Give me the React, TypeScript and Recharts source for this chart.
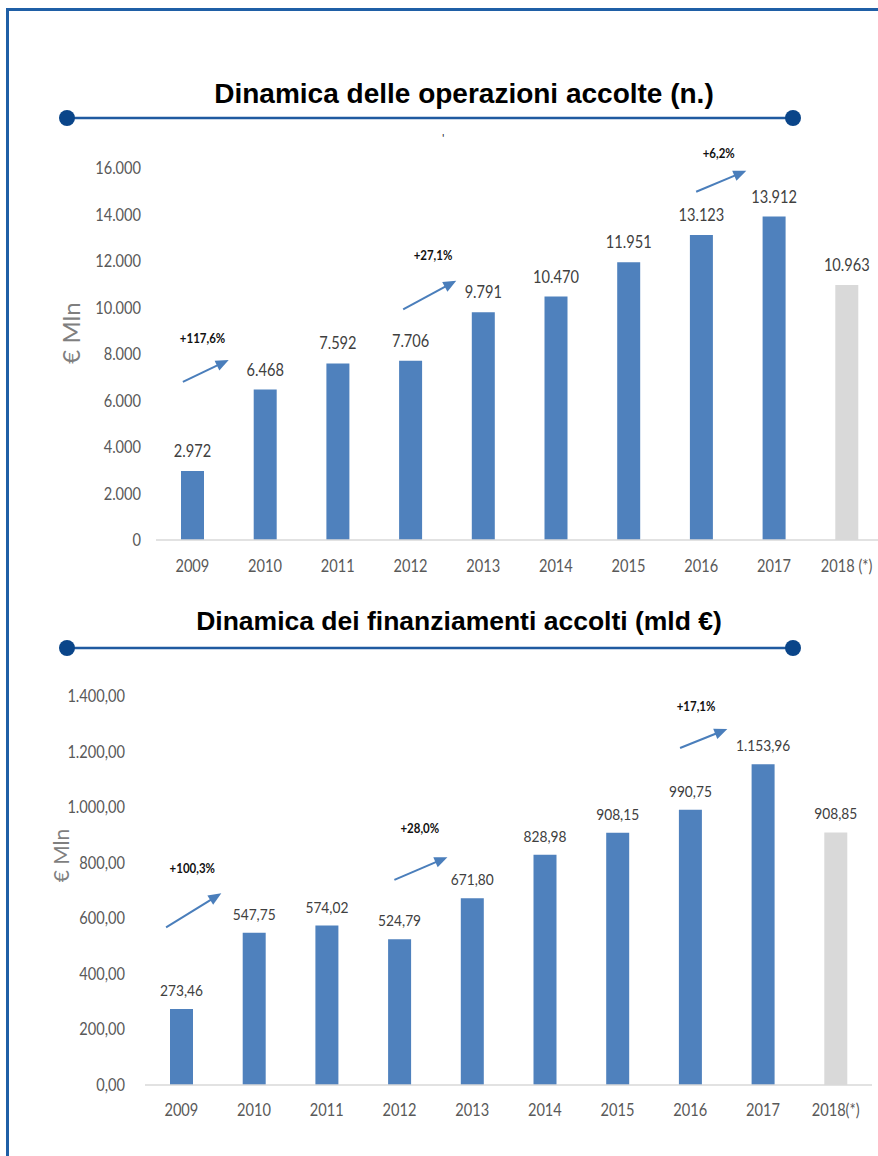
import React from "react";
import {
  BarChart,
  Bar,
  XAxis,
  YAxis,
  Cell,
  LabelList,
  ReferenceLine,
  ReferenceDot,
} from "recharts";

// dati
const anniOperazioni = ["2009", "2010", "2011", "2012", "2013", "2014", "2015", "2016", "2017", "2018 (*)"];
const anniFinanziamenti = ["2009", "2010", "2011", "2012", "2013", "2014", "2015", "2016", "2017", "2018(*)"];
const operazioni = [2972, 6468, 7592, 7706, 9791, 10470, 11951, 13123, 13912, 10963];
const finanziamenti = [273.46, 547.75, 574.02, 524.79, 671.8, 828.98, 908.15, 990.75, 1153.96, 908.85];
const stimato = [false, false, false, false, false, false, false, false, false, true];
const indici = [0, 1, 2, 3, 4, 5, 6, 7, 8, 9];
const tickOperazioni = [0, 2000, 4000, 6000, 8000, 10000, 12000, 14000, 16000];
const tickFinanziamenti = [0, 200, 400, 600, 800, 1000, 1200, 1400];

// frecce di crescita: x in indice di categoria, y in valore
const cresciteOperazioni = [
  { testo: "+117,6%", tx: 0.14, ty: 8670, x1: -0.13, y1: 6800, x2: 0.5, y2: 7740 },
  { testo: "+27,1%", tx: 3.31, ty: 12260, x1: 2.9, y1: 9920, x2: 3.63, y2: 11150 },
  { testo: "+6,2%", tx: 7.24, ty: 16660, x1: 6.93, y1: 14980, x2: 7.62, y2: 15880 },
];
const cresciteFinanziamenti = [
  { testo: "+100,3%", tx: 0.15, ty: 782, x1: -0.21, y1: 567, x2: 0.55, y2: 690 },
  { testo: "+28,0%", tx: 3.28, ty: 925, x1: 2.93, y1: 738, x2: 3.66, y2: 820 },
  { testo: "+17,1%", tx: 7.08, ty: 1364, x1: 6.86, y1: 1213, x2: 7.51, y2: 1281 },
];

const BLU = "#4f81bd";
const GRIGIO = "#d9d9d9";
const FRECCIA = "#4a7ebb";
const FONT = "Lato, sans-serif";
const TITOLO_FONT = '"Liberation Sans", Arial, sans-serif';
const STRETTO = 0.86; // i testi originali sono in un font stretto

const migliaia = (s: string) => s.replace(/\B(?=(\d{3})+(?!\d))/g, ".");
const fmtIntero = (v: number) => migliaia(String(Math.round(v)));
const fmtDecimale = (v: number) => {
  const [i, d] = v.toFixed(2).split(".");
  return migliaia(i) + "," + d;
};

type Crescita = { testo: string; tx: number; ty: number; x1: number; y1: number; x2: number; y2: number };

// testo compresso in orizzontale
function Testo({
  x,
  y,
  value,
  size,
  fill,
  anchor = "middle",
  weight = "normal",
  sx = STRETTO,
}: {
  x: number;
  y: number;
  value: string;
  size: number;
  fill: string;
  anchor?: "start" | "middle" | "end";
  weight?: string;
  sx?: number;
}) {
  if (typeof x !== "number" || typeof y !== "number" || isNaN(x) || isNaN(y)) return <g />;
  return (
    <text
      transform={`translate(${x},${y}) scale(${sx},1)`}
      x={0}
      y={0}
      textAnchor={anchor}
      fontSize={size}
      fontFamily={FONT}
      fontWeight={weight}
      fill={fill}
    >
      {value}
    </text>
  );
}

const Freccia = (props: any) => {
  const { x1, y1, x2, y2 } = props;
  if ([x1, y1, x2, y2].some((v) => typeof v !== "number" || isNaN(v))) return <g />;
  const ang = Math.atan2(y2 - y1, x2 - x1);
  const len = 13;
  const half = 5.5;
  const bx = x2 - len * Math.cos(ang);
  const by = y2 - len * Math.sin(ang);
  const px = -Math.sin(ang) * half;
  const py = Math.cos(ang) * half;
  return (
    <g>
      <line x1={x1} y1={y1} x2={bx + Math.cos(ang)} y2={by + Math.sin(ang)} stroke={FRECCIA} strokeWidth={2} />
      <polygon points={`${x2},${y2} ${bx + px},${by + py} ${bx - px},${by - py}`} fill={FRECCIA} />
    </g>
  );
};

interface GraficoProps {
  categorie: string[];
  valori: number[];
  ticks: number[];
  fmtTick: (v: number) => string;
  fmtValore: (v: number) => string;
  crescite: Crescita[];
  width: number;
  height: number;
  margin: { top: number; right: number; left: number; bottom: number };
  yWidth: number;
  yTickMargin: number;
  xTickMargin: number;
  labelOffset: number;
  labelSize: number;
  unitaX: number;
  unitaDy: number;
  unitaSize: number;
}

function Grafico(p: GraficoProps) {
  const data = indici.map((i) => ({
    i,
    anno: p.categorie[i],
    valore: p.valori[i],
    stimato: stimato[i],
  }));
  const max = p.ticks[p.ticks.length - 1];

  return (
    <BarChart width={p.width} height={p.height} data={data} margin={p.margin}>
      <XAxis
        type="number"
        dataKey="i"
        domain={[-0.5, 9.5]}
        ticks={indici}
        interval={0}
        tick={(t: any) => (
          <Testo x={t.x} y={t.y + 12} value={p.categorie[t.payload.value] ?? ""} size={17} fill="#595959" />
        )}
        tickLine={false}
        tickMargin={p.xTickMargin}
        axisLine={{ stroke: GRIGIO, strokeWidth: 1.5 }}
      />
      <YAxis
        type="number"
        domain={[0, max]}
        ticks={p.ticks}
        interval={0}
        width={p.yWidth}
        tick={(t: any) => (
          <Testo x={t.x} y={t.y + 6} value={p.fmtTick(t.payload.value)} size={17} fill="#595959" anchor="end" />
        )}
        tickLine={false}
        tickMargin={p.yTickMargin}
        axisLine={false}
        label={{
          content: ({ viewBox }: any) => {
            const cx = p.unitaX;
            const cy = viewBox.y + viewBox.height / 2 + p.unitaDy;
            return (
              <text
                x={cx}
                y={cy}
                transform={`rotate(-90, ${cx}, ${cy})`}
                textAnchor="middle"
                dominantBaseline="central"
                fill="#7f7f7f"
                fontSize={p.unitaSize}
                fontFamily={FONT}
              >
                € Mln
              </text>
            );
          },
        }}
      />
      <Bar dataKey="valore" barSize={23} isAnimationActive={false}>
        {data.map((d) => (
          <Cell key={d.i} fill={d.stimato ? GRIGIO : BLU} />
        ))}
        <LabelList
          dataKey="valore"
          content={(l: any) => (
            <Testo
              x={Number(l.x) + Number(l.width) / 2}
              y={Number(l.y) - p.labelOffset}
              value={p.fmtValore(Number(l.value))}
              size={p.labelSize}
              fill="#404040"
            />
          )}
        />
      </Bar>
      {p.crescite.map((c) => (
        <ReferenceLine
          key={"f" + c.testo}
          segment={[
            { x: c.x1, y: c.y1 },
            { x: c.x2, y: c.y2 },
          ]}
          ifOverflow="visible"
          stroke={FRECCIA}
          strokeWidth={2}
          shape={Freccia}
        />
      ))}
      {p.crescite.map((c) => (
        <ReferenceDot
          key={"t" + c.testo}
          x={c.tx}
          y={c.ty}
          r={1}
          ifOverflow="visible"
          shape={(d: any) => (
            <Testo x={d.cx} y={d.cy + 5} value={c.testo} size={14} fill="#111" weight="bold" sx={0.82} />
          )}
        />
      ))}
    </BarChart>
  );
}

function Titolo({ testo, top, centro, size }: { testo: string; top: number; centro: number; size: number }) {
  return (
    <div
      style={{
        position: "absolute",
        left: 0,
        width: centro * 2,
        top,
        textAlign: "center",
        fontFamily: TITOLO_FONT,
        fontWeight: "bold",
        fontSize: size,
        lineHeight: `${size}px`,
        color: "#000",
        whiteSpace: "nowrap",
      }}
    >
      {testo}
    </div>
  );
}

function Riga({ y }: { y: number }) {
  return (
    <svg style={{ position: "absolute", left: 0, top: y - 10 }} width={878} height={20}>
      <line x1={67} y1={10} x2={793} y2={10} stroke="#1f5aa0" strokeWidth={2.5} />
      <circle cx={67} cy={10} r={8} fill="#0a4589" />
      <circle cx={793} cy={10} r={8} fill="#0a4589" />
    </svg>
  );
}

export default function App() {
  return (
    <div
      style={{
        position: "absolute",
        left: 0,
        top: 0,
        width: 878,
        height: 1156,
        overflow: "hidden",
        background: "#fff",
      }}
    >
      <div
        style={{
          position: "absolute",
          left: 6,
          top: 8,
          width: 1000,
          height: 1300,
          borderLeft: "3px solid #1f5fa6",
          borderTop: "3px solid #1f5fa6",
        }}
      />
      <Titolo testo="Dinamica delle operazioni accolte (n.)" top={80} centro={464} size={28} />
      <Riga y={118} />
      <div
        style={{
          position: "absolute",
          left: 442,
          top: 132,
          fontFamily: FONT,
          fontSize: 12,
          lineHeight: "12px",
          color: "#333",
        }}
      >
        '
      </div>
      <div style={{ position: "absolute", left: 0, top: 140 }}>
        <Grafico
          categorie={anniOperazioni}
          valori={operazioni}
          ticks={tickOperazioni}
          fmtTick={fmtIntero}
          fmtValore={fmtIntero}
          crescite={cresciteOperazioni}
          width={895}
          height={440}
          margin={{ top: 28, right: 12, left: 0, bottom: 10 }}
          yWidth={156}
          yTickMargin={9}
          xTickMargin={14}
          labelOffset={14}
          labelSize={17}
          unitaX={70}
          unitaDy={-21}
          unitaSize={24}
        />
      </div>
      <Titolo testo="Dinamica dei finanziamenti accolti (mld €)" top={608} centro={459} size={26.5} />
      <Riga y={648} />
      <div style={{ position: "absolute", left: 0, top: 660 }}>
        <Grafico
          categorie={anniFinanziamenti}
          valori={finanziamenti}
          ticks={tickFinanziamenti}
          fmtTick={fmtDecimale}
          fmtValore={fmtDecimale}
          crescite={cresciteFinanziamenti}
          width={895}
          height={480}
          margin={{ top: 36, right: 23, left: 0, bottom: 25 }}
          yWidth={145}
          yTickMargin={14}
          xTickMargin={13}
          labelOffset={13}
          labelSize={16}
          unitaX={60}
          unitaDy={-35}
          unitaSize={21}
        />
      </div>
    </div>
  );
}
